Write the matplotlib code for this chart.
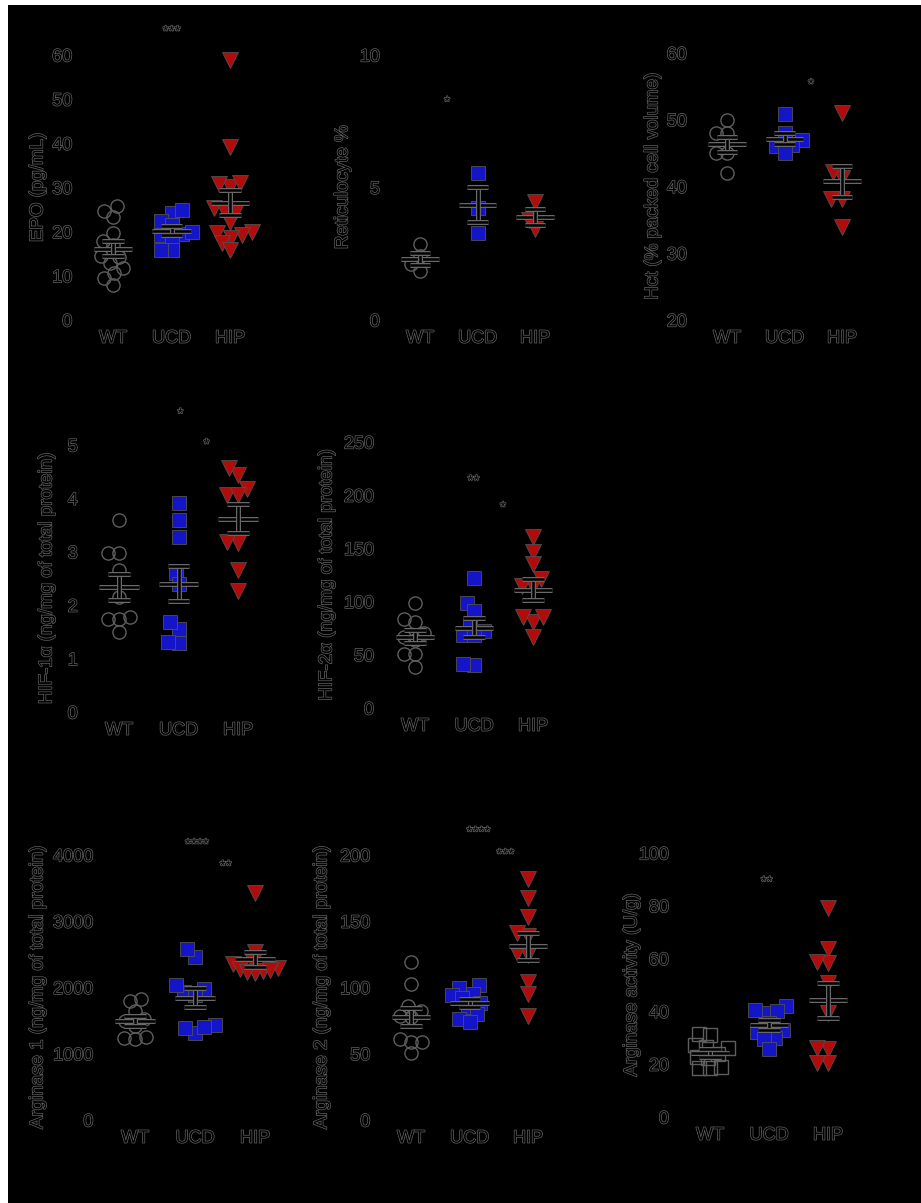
import numpy as np
import matplotlib
matplotlib.use("Agg")
import matplotlib.pyplot as plt
from matplotlib import patheffects as pe
from matplotlib.patches import Rectangle

plt.rcParams['font.family'] = ['Liberation Sans', 'DejaVu Sans']

groups = ["WT", "UCD", "HIP"]

# ---- measurements per group (WT, UCD, HIP) ----
epo_wt = [23.4, 25.7, 24.7, 19.7, 17.0, 18.0, 12.9, 14.3, 14.5, 11.8, 10.6, 9.4, 7.9]
epo_ucd = [24.3, 24.8, 22.5, 21.5, 19.2, 19.5, 18.5, 15.8, 15.8, 20.0]
epo_hip = [58.9, 39.2, 30.2, 31.1, 30.7, 25.3, 24.7, 24.5, 22.3, 20.0, 19.3, 18.6, 19.7, 17.4, 15.8]

retic_wt = [2.85, 2.4, 2.1, 1.85]
retic_ucd = [5.56, 4.21, 3.27]
retic_hip = [4.47, 3.77, 3.42]

hct_wt = [49.9, 48.0, 48.0, 45.0, 45.0, 42.0]
hct_ucd = [50.9, 48.0, 47.0, 46.2, 46.0, 45.0]
hct_hip = [51.0, 41.2, 42.2, 38.1, 38.1, 34.0]

hif1_wt = [3.6, 2.98, 2.98, 2.66, 2.16, 1.74, 1.78, 1.74, 1.49]
hif1_ucd = [3.91, 3.6, 3.28, 2.6, 2.4, 1.55, 1.3, 1.69, 1.32]
hif1_hip = [4.44, 4.56, 4.06, 4.18, 4.06, 3.16, 3.19, 2.66, 2.27]

hif2_wt = [98.8, 81.0, 83.2, 66.9, 70.1, 64.0, 50.7, 50.7, 38.2]
hif2_ucd = [122.3, 98.8, 91.0, 78.0, 72.0, 68.5, 68.5, 40.3, 41.3]
hif2_hip = [160.7, 146.6, 135.7, 121.6, 114.4, 114.4, 81.0, 85.6, 85.6, 66.9]

arg1_wt = [1830, 1800, 1650, 1520, 1500, 1420, 1240, 1230, 1260]
arg1_ucd = [2465, 2581, 1937, 2038, 1980, 1890, 1310, 1430, 1390, 1400]
arg1_hip = [3422, 2541, 2380, 2350, 2300, 2280, 2250, 2260, 2220, 2240]

arg2_wt = [119.5, 102.4, 86.0, 82.0, 78.0, 78.4, 58.6, 60.9, 58.6, 50.3]
arg2_ucd = [102, 100, 95, 94, 92, 88, 85, 80, 76, 74]
arg2_hip = [181.9, 167.8, 153.5, 139.1, 140.9, 124.5, 125.8, 104.4, 94.9, 78.7]

argact_wt = [31.0, 31.6, 26.0, 27.2, 26.6, 24.0, 22.8, 22.5, 18.4, 18.9, 18.5]
argact_ucd = [42.2, 39.5, 40.0, 40.6, 32.3, 33.0, 30.1, 29.4, 25.6, 35.5]
argact_hip = [79.1, 63.5, 58.2, 58.6, 50.9, 39.3, 25.6, 26.0, 20.3, 20.5]

# ---- figure ----
W, H = 921, 1203
fig = plt.figure(figsize=(W / 100, H / 100), dpi=100, facecolor='white')
fig.add_artist(Rectangle((8 / W, 0), 1 - 8 / W, 1 - 5 / H, transform=fig.transFigure,
                         facecolor='black', edgecolor='none', zorder=-10))

EDGE = '#686868'
TXT_FX = [pe.Stroke(linewidth=0.95, foreground=EDGE), pe.Normal()]
LINE_FX = [pe.Stroke(linewidth=3.6, foreground=EDGE), pe.Normal()]

STYLES = [
    dict(marker='o', mfc='none', mec='#5e5e5e', mew=1.0, ms=9.5),
    dict(marker='s', mfc='#1414c8', mec='#505050', mew=0.6, ms=9.5),
    dict(marker='v', mfc='#b00c0c', mec='#505050', mew=0.6, ms=11),
]

MAX_SPREAD = 0.38  # widest scatter half-width, in category units


def swarm(ypx, d):
    """Horizontal pixel offsets so that points of diameter d do not overlap."""
    order = np.argsort(ypx)
    placed = []
    xs = np.zeros(len(ypx))
    for idx in order:
        y = ypx[idx]
        cands = [0.0]
        for px, py in placed:
            dy = abs(y - py)
            if dy < d:
                dx = np.sqrt(d * d - dy * dy)
                cands += [px - dx, px + dx]
        cands = sorted(set(cands), key=lambda c: (round(abs(c), 6), c))
        for c in cands:
            if all((c - px) ** 2 + (y - py) ** 2 >= d * d - 1e-6 for px, py in placed):
                xs[idx] = c
                break
        placed.append((xs[idx], y))
    return xs


def panel(box, data, ylim, ystep, ylabel, label_x, stars, wt_marker='o'):
    left, top, right, bottom = box
    ax = fig.add_axes([left / W, 1 - bottom / H, (right - left) / W, (bottom - top) / H])
    ax.set_xlim(-0.6, 2.6)
    ax.set_ylim(*ylim)
    ax.patch.set_alpha(0)
    for s in ax.spines.values():
        s.set_visible(False)
    px_x = (right - left) / 3.2
    px_y = (bottom - top) / (ylim[1] - ylim[0])

    for i, vals in enumerate(data):
        vals = np.asarray(vals, float)
        style = dict(STYLES[i])
        if i == 0:
            style['marker'] = wt_marker
        off = swarm(vals * px_y, 11.0) / px_x
        widest = np.abs(off).max()
        if widest > MAX_SPREAD:
            off *= MAX_SPREAD / widest
        ax.plot(i + off, vals, ls='none', zorder=3, clip_on=False, **style)
        m = vals.mean()
        sem = vals.std(ddof=1) / np.sqrt(len(vals))
        kw = dict(color='black', lw=1.8, path_effects=LINE_FX, zorder=5,
                  solid_capstyle='butt', clip_on=False)
        ax.plot([i - 0.33, i + 0.33], [m, m], **kw)
        ax.plot([i, i], [m - sem, m + sem], **kw)
        ax.plot([i - 0.18, i + 0.18], [m + sem, m + sem], **kw)
        ax.plot([i - 0.18, i + 0.18], [m - sem, m - sem], **kw)

    ax.set_xticks([0, 1, 2], groups)
    ax.set_yticks(np.arange(ylim[0], ylim[1] + ystep * 0.5, ystep))
    ax.tick_params(axis='both', length=0, labelsize=13, colors='black')
    ax.tick_params(axis='x', pad=7)
    ax.tick_params(axis='y', pad=4)
    for lab in ax.get_xticklabels() + ax.get_yticklabels():
        lab.set_path_effects(TXT_FX)

    yl = ax.set_ylabel(ylabel, fontsize=13.5, color='black', va='center')
    yl.set_path_effects(TXT_FX)
    ax.yaxis.set_label_coords((label_x - left) / (right - left), 0.5)

    for sx, sy, st in stars:
        ax.text(sx, sy, st, ha='center', va='center', fontsize=11, color='black',
                path_effects=TXT_FX, clip_on=False)
    return ax


panel((77.9, 55, 265.1, 320), [epo_wt, epo_ucd, epo_hip], (0, 60), 10,
      'EPO (pg/mL)', 38, [(1.0, 65.2, '***')])
panel((385.5, 55, 569.5, 320), [retic_wt, retic_ucd, retic_hip], (0, 10), 5,
      'Reticulocyte %', 343, [(0.47, 8.2, '*')])
panel((692.5, 53, 876.5, 320), [hct_wt, hct_ucd, hct_hip], (20, 60), 10,
      'Hct (% packed cell volume)', 653, [(1.46, 55.2, '*')])
panel((83.3, 445, 273.7, 712), [hif1_wt, hif1_ucd, hif1_hip], (0, 5), 1,
      'HIF-1α (ng/mg of total protein)', 47, [(1.03, 5.57, '*'), (1.47, 5.0, '*')])
panel((379.6, 442, 568.4, 708), [hif2_wt, hif2_ucd, hif2_hip], (0, 250), 50,
      'HIF-2α (ng/mg of total protein)', 327, [(0.99, 213, '**'), (1.49, 188, '*')])
panel((99, 855, 291, 1120), [arg1_wt, arg1_ucd, arg1_hip], (0, 4000), 1000,
      'Arginase 1 (ng/mg of total protein)', 38, [(1.03, 4151, '****'), (1.51, 3823, '**')])
panel((375.9, 855, 563.1, 1120), [arg2_wt, arg2_ucd, arg2_hip], (0, 200), 50,
      'Arginase 2 (ng/mg of total protein)', 322, [(1.15, 216.8, '****'), (1.61, 200, '***')])
panel((674.6, 853, 863.4, 1117), [argact_wt, argact_ucd, argact_hip], (0, 100), 20,
      'Arginase activity (U/g)', 632, [(0.96, 88.8, '**')], wt_marker='s')

fig.savefig('out.png', dpi=100, facecolor=fig.get_facecolor())
